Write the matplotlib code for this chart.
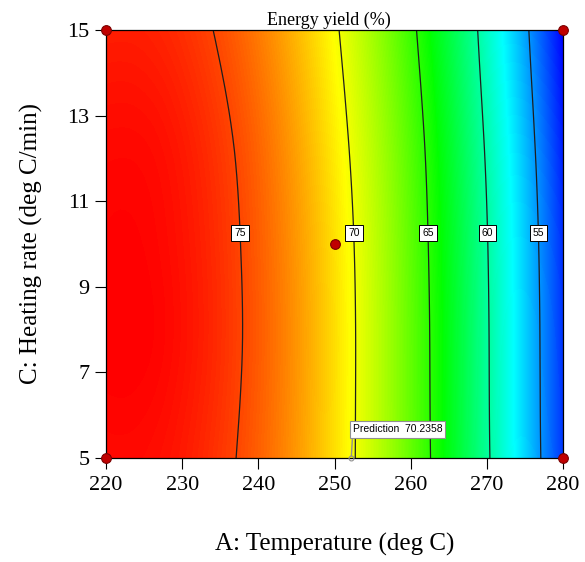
import numpy as np
import matplotlib
matplotlib.use("Agg")
import matplotlib.pyplot as plt
import matplotlib.tri as mtri
from matplotlib.colors import LinearSegmentedColormap

# ---------- data read from the response surface ----------
temperature = [220, 225, 230, 235, 240, 245, 250, 255, 260, 265, 270, 275, 280]
heating_rate = [5, 7.5, 10, 12.5, 15]

# energy yield (%) : one row per heating rate, one column per temperature
yield_hr5 = [76.51, 76.48, 76.13, 75.40, 74.34, 72.92, 71.13, 68.98, 66.47, 63.56, 60.28, 56.64, 52.63]
yield_hr7_5 = [76.76, 76.73, 76.35, 75.60, 74.49, 73.02, 71.18, 68.98, 66.42, 63.50, 60.21, 56.56, 52.55]
yield_hr10 = [76.71, 76.68, 76.30, 75.55, 74.43, 72.94, 71.09, 68.88, 66.31, 63.38, 60.09, 56.42, 52.39]
yield_hr12_5 = [76.51, 76.48, 76.09, 75.33, 74.19, 72.65, 70.76, 68.55, 66.00, 63.06, 59.72, 56.01, 51.95]
yield_hr15 = [76.01, 75.98, 75.59, 74.83, 73.67, 72.12, 70.25, 68.02, 65.43, 62.49, 59.16, 55.41, 51.30]

contour_levels = [55, 60, 65, 70, 75]
label_rate = 10.25

design_temp = [220, 220, 280, 280, 250]
design_rate = [5, 15, 5, 15, 10]

pred_temp = 252.2
pred_rate = 5
pred_value = 70.2358

x_ticks = [220, 230, 240, 250, 260, 270, 280]
y_ticks = [5, 7, 9, 11, 13, 15]

# ---------- figure ----------
serif = "Liberation Serif"
sans = "Liberation Sans"

Z = np.array([yield_hr5, yield_hr7_5, yield_hr10, yield_hr12_5, yield_hr15])
X, Y = np.meshgrid(temperature, heating_rate)

# smooth the surface with matplotlib's cubic tri refiner
tri = mtri.Triangulation(X.ravel(), Y.ravel())
refiner = mtri.UniformTriRefiner(tri)
tri_f, z_f = refiner.refine_field(Z.ravel(), subdiv=3)

cmap = LinearSegmentedColormap.from_list(
    "de", ["#0000ff", "#00ffff", "#00ff00", "#ffff00", "#ff0000"])

fig = plt.figure(figsize=(5.85, 5.62), dpi=100)
ax = fig.add_axes([106 / 585, 104 / 562, 457 / 585, 428 / 562])

ax.tricontourf(tri_f, z_f, levels=np.linspace(z_f.min(), z_f.max(), 256),
               cmap=cmap, antialiased=False)
lines = ax.tricontour(tri_f, z_f, levels=contour_levels, colors="#1e1e1e", linewidths=0.9)

# label positions: guess from the row at heating rate 10
row = np.array(yield_hr10)
guesses = [(np.interp(lv, row[::-1], temperature[::-1]), label_rate) for lv in contour_levels]
labels = ax.clabel(lines, inline=False, fmt="%d", manual=guesses, fontsize=7.5, colors="black")
for t in labels:
    t.set_rotation(0)
    t.set_family(sans)
    t.set_bbox(dict(boxstyle="square,pad=0.3", facecolor="white", edgecolor="black", linewidth=0.7))

ax.plot(design_temp, design_rate, "o", markersize=7, markerfacecolor="#c00000",
        markeredgecolor="#7a0000", markeredgewidth=0.8, clip_on=False, zorder=5)

ax.plot(pred_temp, pred_rate, "o", markersize=3.5, markerfacecolor="none",
        markeredgecolor="#909090", markeredgewidth=0.8, clip_on=False, zorder=5)
ax.annotate("Prediction  %.4f" % pred_value, xy=(pred_temp, pred_rate),
            xytext=(1, 17), textcoords="offset points", ha="left", va="bottom",
            fontsize=7.5, family=sans,
            bbox=dict(boxstyle="square,pad=0.3", facecolor="white", edgecolor="#909090", linewidth=0.8),
            arrowprops=dict(arrowstyle="-", color="#909090", lw=1.0, relpos=(0.0, 0.0),
                            shrinkA=0, shrinkB=1.5))

ax.set_xlim(220, 280)
ax.set_ylim(5, 15)
ax.set_xticks(x_ticks)
ax.set_yticks(y_ticks)
ax.tick_params(direction="out", length=8, width=0.8, labelsize=16)
ax.tick_params(axis="x", pad=5)
ax.tick_params(axis="y", pad=4)
for lab in ax.get_xticklabels() + ax.get_yticklabels():
    lab.set_family(serif)
for s in ax.spines.values():
    s.set_linewidth(0.9)

ax.set_xlabel("A: Temperature (deg C)", fontsize=18, family=serif, labelpad=27)
ax.set_ylabel("C: Heating rate (deg C/min)", fontsize=18, family=serif, labelpad=17)
ax.set_title("Energy yield (%)", fontsize=13, family=serif, pad=4, x=0.487)

fig.savefig("out.png", dpi=100)
